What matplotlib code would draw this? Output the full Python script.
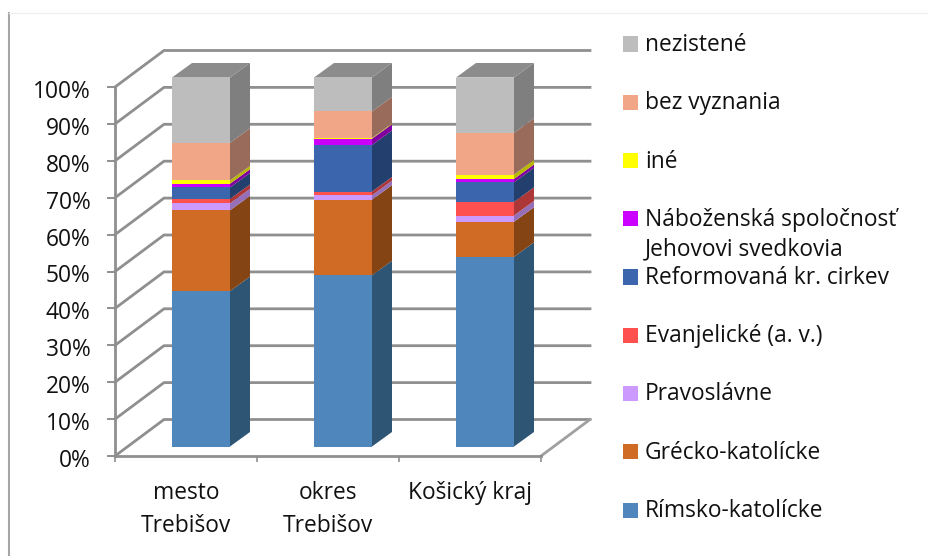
import numpy as np
import matplotlib
matplotlib.use('Agg')
import matplotlib.pyplot as plt
from matplotlib.lines import Line2D
from matplotlib.patches import Rectangle
from matplotlib.ticker import PercentFormatter
from matplotlib.transforms import ScaledTranslation

categories = ['mesto\nTrebišov', 'okres\nTrebišov', 'Košický kraj']
series = ['Rímsko-katolícke', 'Grécko-katolícke', 'Pravoslávne', 'Evanjelické (a. v.)',
          'Reformovaná kr. cirkev', 'Náboženská spoločnosť\nJehovovi svedkovia',
          'iné', 'bez vyznania', 'nezistené']
rim_kat = [42.1, 46.4, 51.4]
grec_kat = [21.9, 20.5, 9.5]
pravosl = [1.9, 1.2, 1.7]
evanj = [1.2, 1.0, 3.7]
reform = [3.1, 12.6, 5.3]
jehovovi = [1.0, 1.7, 0.9]
ine = [0.9, 0.2, 1.2]
bez_vyz = [10.2, 7.2, 11.3]
nezist = [17.7, 9.2, 15.0]
values = [rim_kat, grec_kat, pravosl, evanj, reform, jehovovi, ine, bez_vyz, nezist]

front = ['#4f86bc', '#d06b26', '#cc99ff', '#ff5050', '#3b65ad', '#cc00ff', '#ffff00', '#f2a688', '#bdbdbd']
side = ['#2f5574', '#844414', '#9570b8', '#ad3636', '#233f6d', '#8000a0', '#b8b800', '#996b5a', '#7f7f7f']

W, H = 929, 556
plt.rcParams['font.family'] = ['Open Sans', 'DejaVu Sans']
fs = 16.4
fig = plt.figure(figsize=(W / 100, H / 100), dpi=100, facecolor='white')

# axes box is the front plane of the 3d chart, in pixels of the reference
ax = fig.add_axes([115 / W, 1 - 456 / H, 426 / W, 369 / H])
ax.set_xlim(-0.5, 2.5)
ax.set_ylim(0, 100)
xu = 426 / 3.0   # px per category
yu = 369 / 100.0  # px per percent
grey = '#8f8f8f'

# depth of the box and of the bars
dx, dy = 49 / xu, 36.5 / yu
off_x, off_y = 15 / xu, 9.5 / yu
bar_dx, bar_dy = 20 / xu, 14.5 / yu
bar_w = 58 / xu

# walls
for v in range(0, 101, 10):
    ax.plot([-0.5, -0.5 + dx, 2.5 + dx], [v, v + dy, v + dy], color=grey, lw=2.0,
            clip_on=False, zorder=1, solid_joinstyle='miter')
ax.plot([2.5, 2.5 + dx], [0, dy], color='#a0a0a0', lw=2.0, clip_on=False, zorder=1)

# bars
pos = np.arange(len(categories))
bottoms = np.zeros(len(categories))
for vals, fc, sc, name in zip(values, front, side, series):
    vals = np.array(vals)
    xs = pos + off_x + bar_w / 2
    ys = bottoms + off_y
    for x, y, v in zip(xs, ys, vals):
        ax.fill([x, x + bar_dx, x + bar_dx, x], [y, y + bar_dy, y + v + bar_dy, y + v],
                color=sc, lw=0, clip_on=False, zorder=3)
    ax.bar(pos + off_x, vals, bar_w, bottom=ys, color=fc, lw=0,
           clip_on=False, zorder=4, label=name)
    bottoms = bottoms + vals
for x, t in zip(pos + off_x + bar_w / 2, bottoms + off_y):
    ax.fill([x - bar_w, x, x + bar_dx, x - bar_w + bar_dx], [t, t, t + bar_dy, t + bar_dy],
            color='#8c8c8c', lw=0, clip_on=False, zorder=3)

# axes lines and labels
for s in ['top', 'right']:
    ax.spines[s].set_visible(False)
for s in ['left', 'bottom']:
    ax.spines[s].set_color(grey)
    ax.spines[s].set_linewidth(2.0)
ax.set_yticks(range(0, 101, 10))
ax.yaxis.set_major_formatter(PercentFormatter(100, decimals=0))
ax.tick_params(axis='y', length=5.8, width=1.4, color=grey, labelsize=fs, pad=12, labelcolor='#111111')
ax.set_xticks(pos)
ax.set_xticklabels(categories, linespacing=1.5)
ax.set_xticks([-0.5, 0.5, 1.5, 2.5], minor=True)
ax.tick_params(axis='x', which='major', length=0, labelsize=fs, pad=18, labelcolor='#111111')
ax.tick_params(axis='x', which='minor', length=4.5, width=1.2, color=grey)
for lbl in ax.get_yticklabels():
    lbl.set_transform(lbl.get_transform() + ScaledTranslation(0, -2 / 100, fig.dpi_scale_trans))

# legend drawn by hand, the entries are evenly spaced and one wraps over its neighbour
for i, (name, fc) in enumerate(zip(series[::-1], front[::-1])):
    yc = 44 + i * 58.25
    fig.add_artist(Rectangle((623 / W, 1 - (yc + 7.5) / H), 15 / W, 15 / H, color=fc, lw=0,
                             transform=fig.transFigure))
    for j, line in enumerate(name.split('\n')):
        fig.text(645 / W, 1 - (yc + 7 + j * 30) / H, line, fontsize=fs, color='#111111',
                 va='baseline', ha='left')

# frame of the slide
fig.add_artist(Line2D([9 / W, 9 / W], [0, 1 - 13 / H], color='#a6a6a6', lw=1.5))
fig.add_artist(Line2D([9 / W, 1], [1 - 13 / H, 1 - 13 / H], color='#f0f0f0', lw=1))

fig.savefig('out.png', dpi=100)
